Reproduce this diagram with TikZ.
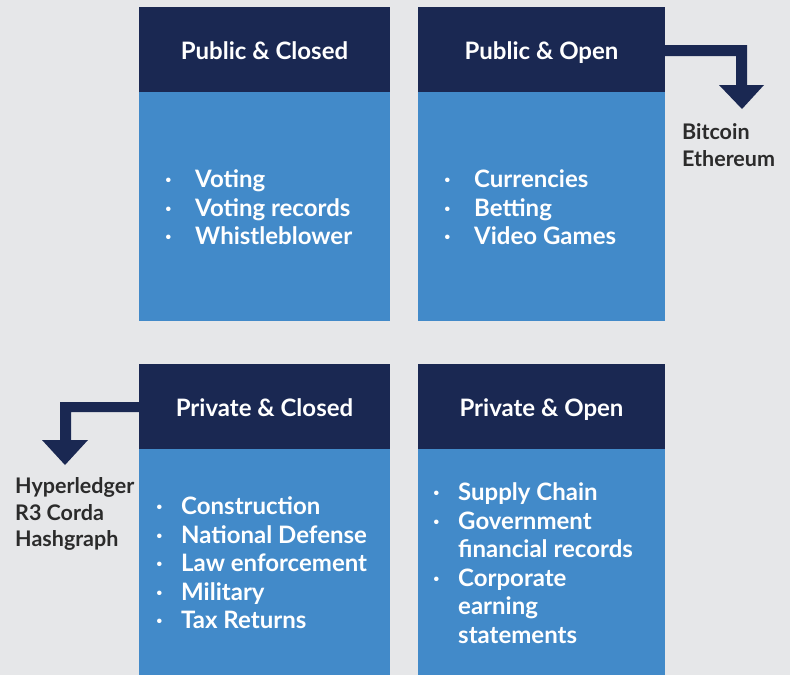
\documentclass[tikz,border=0pt]{standalone}
\usepackage{fontspec}
\setmainfont{Lato}
\definecolor{bg}{HTML}{E6E7E9}
\definecolor{navy}{HTML}{1A2852}
\definecolor{boxblue}{HTML}{428AC9}
\definecolor{txt}{HTML}{2B2B2B}
\newcommand{\bul}{·}
\newcommand{\lst}[2]{\begin{tabular}[t]{@{}p{#1}@{}l@{}}#2\end{tabular}}
\newcommand{\sidelst}[1]{\begin{tabular}[t]{@{}l@{}}#1\end{tabular}}
\begin{document}
\begin{tikzpicture}[x=1pt,y=-1pt,
  head/.style={fill=navy,draw=none},
  body/.style={fill=boxblue,draw=none},
  htext/.style={text=white,font=\fontsize{24}{28}\selectfont\bfseries,inner sep=0pt},
  btext/.style={text=white,font=\fontsize{24}{28.6}\selectfont\bfseries,inner sep=0pt,anchor=base west},
  side/.style={text=txt,font=\fontsize{21.5}{26.5}\selectfont\bfseries,inner sep=0pt,anchor=base west},
  arr/.style={fill=navy,draw=none}]
\useasboundingbox (0,0) rectangle (790,675);
\fill[bg] (0,0) rectangle (790,675);
% boxes
\fill[head] (139,7) rectangle (390,92);
\fill[body] (139,92) rectangle (390,321);
\fill[head] (418,7) rectangle (665,92);
\fill[body] (418,92) rectangle (665,321);
\fill[head] (139,364) rectangle (390,449);
\fill[body] (139,449) rectangle (390,675);
\fill[head] (418,364) rectangle (665,449);
\fill[body] (418,449) rectangle (665,675);
% headers
\node[htext,anchor=base] (h1) at (264.5,59) {Public \& Closed};
\node[htext,anchor=base] (h2) at (541.5,59) {Public \& Open};
\node[htext,anchor=base] (h3) at (264.5,416) {Private \& Closed};
\node[htext,anchor=base] (h4) at (541.5,416) {Private \& Open};
% lists
\node[btext] (l1) at (165,187.5) {\lst{30pt}{\bul&Voting\\ \bul&Voting records\\ \bul&Whistleblower}};
\node[btext] (l2) at (444,187.5) {\lst{30pt}{\bul&Currencies\\ \bul&Betting\\ \bul&Video Games}};
\node[btext] (l3) at (156,514.5) {\lst{25pt}{\bul&Construction\\ \bul&National Defense\\ \bul&Law enforcement\\ \bul&Military\\ \bul&Tax Returns}};
\node[btext] (l4) at (433,500.5) {\lst{25pt}{\bul&Supply Chain\\ \bul&Government\\ &financial records\\ \bul&Corporate\\ &earning\\ &statements}};
% side labels
\node[side] (s1) at (682,139.5) {\sidelst{Bitcoin\\Ethereum}};
\node[side] (s2) at (15,493.5) {\sidelst{Hyperledger\\R3 Corda\\Hashgraph}};
% arrows
\coordinate (a1) at (665,45);
\fill[arr] (a1) -- (747,45) -- (747,85) -- (764,85) -- (742,109) -- (719,85) -- (736,85) -- (736,56) -- (665,56) -- cycle;
\coordinate (a2) at (139,402);
\fill[arr] (a2) -- (60,402) -- (60,440) -- (42,440) -- (65,465) -- (88,440) -- (71,440) -- (71,412) -- (139,412) -- cycle;
\end{tikzpicture}
\end{document}
